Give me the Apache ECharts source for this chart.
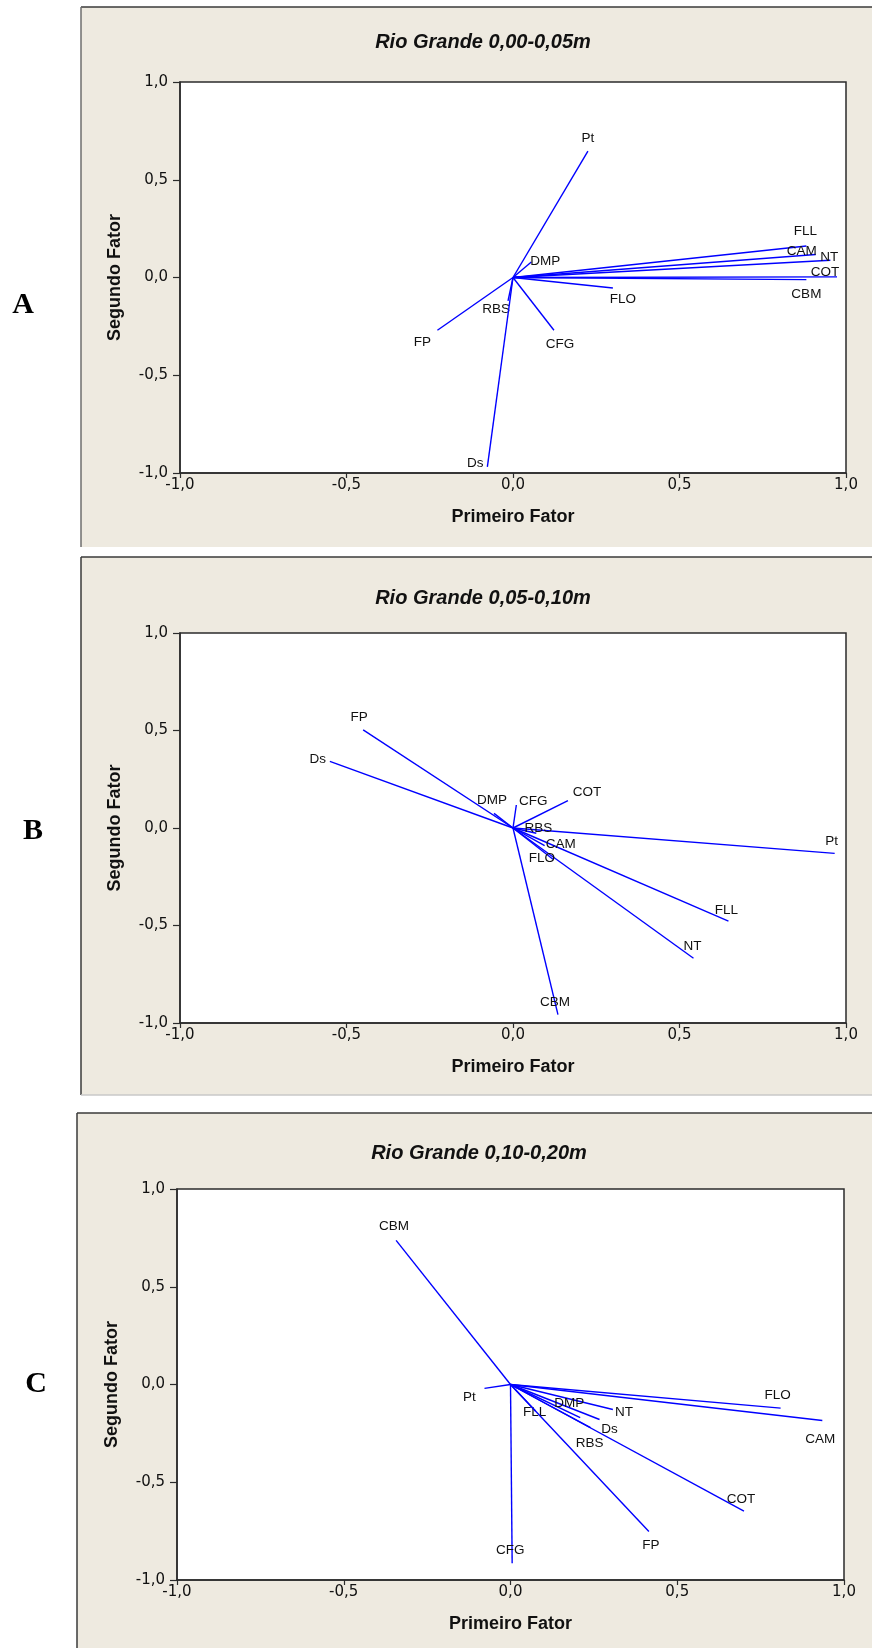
<!DOCTYPE html>
<html>
<head>
<meta charset="utf-8">
<script src="https://cdn.jsdelivr.net/npm/echarts@6/dist/echarts.min.js"></script>
<style>
html,body{margin:0;padding:0;background:#fff;}
#chart{width:872px;height:1648px;}
</style>
</head>
<body>
<div id="chart"></div>
<script>
// ---------- data (loadings: Primeiro Fator, Segundo Fator) ----------
const titles = ['Rio Grande 0,00-0,05m', 'Rio Grande 0,05-0,10m', 'Rio Grande 0,10-0,20m'];
const panelLetters = ['A', 'B', 'C'];
const xAxisName = 'Primeiro Fator';
const yAxisName = 'Segundo Fator';
const tickValues = [-1, -0.5, 0, 0.5, 1];

const varsA = ['Pt', 'FLL', 'CAM', 'NT', 'COT', 'CBM', 'FLO', 'DMP', 'CFG', 'RBS', 'FP', 'Ds'];
const f1A = [0.225, 0.881, 0.909, 0.953, 0.973, 0.881, 0.300, 0.055, 0.123, -0.015, -0.227, -0.077];
const f2A = [0.646, 0.161, 0.118, 0.088, 0.003, -0.011, -0.054, 0.079, -0.270, -0.120, -0.270, -0.969];

const varsB = ['FP', 'Ds', 'DMP', 'CFG', 'COT', 'Pt', 'FLL', 'NT', 'CBM', 'RBS', 'CAM', 'FLO'];
const f1B = [-0.450, -0.550, -0.057, 0.010, 0.165, 0.966, 0.647, 0.542, 0.135, 0.070, 0.095, 0.120];
const f2B = [0.503, 0.342, 0.075, 0.118, 0.141, -0.130, -0.478, -0.668, -0.957, -0.027, -0.090, -0.160];

const varsC = ['CBM', 'Pt', 'FLO', 'CAM', 'NT', 'Ds', 'DMP', 'FLL', 'RBS', 'COT', 'FP', 'CFG'];
const f1C = [-0.343, -0.078, 0.810, 0.935, 0.307, 0.267, 0.209, 0.075, 0.240, 0.700, 0.415, 0.005];
const f2C = [0.737, -0.020, -0.121, -0.184, -0.128, -0.179, -0.170, -0.136, -0.220, -0.648, -0.752, -0.914];

// ---------- label placement (pixel offsets from vector tip) ----------
const labelOffsets = [
  [[0,-13],[-1,-15],[-14,-3],[-1,-3],[-12,-5],[0,15],[10,11],[14,-1],[6,14],[-12,8],[-15,12],[-12,-4]],
  [[-4,-13],[-12,-2],[-2,-13],[17,-4],[19,-8],[-3,-12],[-2,-11],[-1,-12],[-3,-12],[2,-5],[16,-1],[-11,-1]],
  [[-2,-14],[-15,9],[-3,-13],[-2,19],[11,3],[10,10],[-11,-14],[-1,1],[-1,16],[-3,-12],[2,14],[-2,-13]]
];

const panels = [
  {vars: varsA, f1: f1A, f2: f2A},
  {vars: varsB, f1: f1B, f2: f2B},
  {vars: varsC, f1: f1C, f2: f2C}
];

// ---------- layout ----------
const grids = [
  {left: 180, top: 82, width: 666, height: 391},
  {left: 180, top: 633, width: 666, height: 390},
  {left: 177, top: 1189, width: 667, height: 391}
];
const frames = [
  {x: 81, y: 7, h: 540, bottomLine: false},
  {x: 81, y: 557, h: 538, bottomLine: true},
  {x: 77, y: 1113, h: 560, bottomLine: false}
];
const titleY = [42, 598, 1153];
const titleX = [483, 483, 479];
const letterPos = [[23, 305], [33, 831], [36, 1384]];

const BEIGE = '#EEEAE0';
const AXIS = '#2b2b2b';
const fmt = v => v.toFixed(1).replace('.', ',');

const graphic = [];
frames.forEach((f, i) => {
  graphic.push({type: 'rect', z: -10, shape: {x: f.x, y: f.y, width: 872 - f.x + 10, height: f.h},
    style: {fill: BEIGE}});
  graphic.push({type: 'line', z: -9, shape: {x1: f.x, y1: f.y, x2: 880, y2: f.y},
    style: {stroke: '#3a3a3a', lineWidth: 1.5}});
  graphic.push({type: 'line', z: -9, shape: {x1: f.x, y1: f.y, x2: f.x, y2: f.y + f.h},
    style: {stroke: i === 0 ? '#6e6e6e' : '#3a3a3a', lineWidth: 1.5}});
  if (f.bottomLine) {
    graphic.push({type: 'line', z: -9, shape: {x1: f.x, y1: f.y + f.h, x2: 880, y2: f.y + f.h},
      style: {stroke: '#c8c8c8', lineWidth: 1.5}});
  }
  graphic.push({type: 'text', x: titleX[i], y: titleY[i],
    style: {text: titles[i], font: 'italic bold 20px "Liberation Sans", Arial, sans-serif',
      fill: '#111', align: 'center', verticalAlign: 'middle'}});
  graphic.push({type: 'text', x: letterPos[i][0], y: letterPos[i][1],
    style: {text: panelLetters[i], font: 'bold 30px "Liberation Serif", "Times New Roman", serif',
      fill: '#000', align: 'center', verticalAlign: 'middle'}});
});

const option = {
  backgroundColor: '#ffffff',
  animation: false,
  graphic: graphic,
  grid: grids.map(g => Object.assign({show: true, backgroundColor: '#ffffff', borderColor: AXIS, borderWidth: 1.5, containLabel: false}, g)),
  xAxis: grids.map((g, i) => ({
    type: 'value', gridIndex: i, min: -1, max: 1, interval: 0.5,
    name: xAxisName, nameLocation: 'middle', nameGap: 35,
    nameTextStyle: {fontFamily: '"Liberation Sans", Arial, sans-serif', fontWeight: 'bold', fontSize: 18, color: '#111'},
    axisLine: {show: true, onZero: false, lineStyle: {color: AXIS, width: 1.5}},
    axisTick: {show: true, inside: false, length: 5, lineStyle: {color: AXIS, width: 1.2}},
    axisLabel: {margin: 5, fontFamily: '"DejaVu Sans", Verdana, sans-serif', fontSize: 15, color: '#111', formatter: fmt},
    splitLine: {show: false}
  })),
  yAxis: grids.map((g, i) => ({
    type: 'value', gridIndex: i, min: -1, max: 1, interval: 0.5,
    name: yAxisName, nameLocation: 'middle', nameGap: 56, nameRotate: 90,
    nameTextStyle: {fontFamily: '"Liberation Sans", Arial, sans-serif', fontWeight: 'bold', fontSize: 18, color: '#111'},
    axisLine: {show: true, onZero: false, lineStyle: {color: AXIS, width: 1.5}},
    axisTick: {show: true, inside: false, length: 7, lineStyle: {color: AXIS, width: 1.2}},
    axisLabel: {margin: 12, fontFamily: '"DejaVu Sans", Verdana, sans-serif', fontSize: 15, color: '#111', formatter: fmt},
    splitLine: {show: false}
  })),
  series: panels.map((p, i) => ({
    type: 'custom',
    xAxisIndex: i, yAxisIndex: i,
    clip: false,
    data: p.f1.map((v, k) => [v, p.f2[k]]),
    renderItem: function (params, api) {
      const o = api.coord([0, 0]);
      const t = api.coord([api.value(0), api.value(1)]);
      const off = labelOffsets[i][params.dataIndex];
      return {
        type: 'group',
        children: [
          {type: 'line', shape: {x1: o[0], y1: o[1], x2: t[0], y2: t[1]},
            style: {stroke: '#0000FF', lineWidth: 1.4}},
          {type: 'text', x: t[0] + off[0], y: t[1] + off[1],
            style: {text: p.vars[params.dataIndex], font: '13.5px "Liberation Sans", Arial, sans-serif',
              fill: '#111', align: 'center', verticalAlign: 'middle'}}
        ]
      };
    }
  }))
};

const chart = echarts.init(document.getElementById('chart'), null, {renderer: 'canvas', width: 872, height: 1648});
chart.setOption(option);
</script>
</body>
</html>
